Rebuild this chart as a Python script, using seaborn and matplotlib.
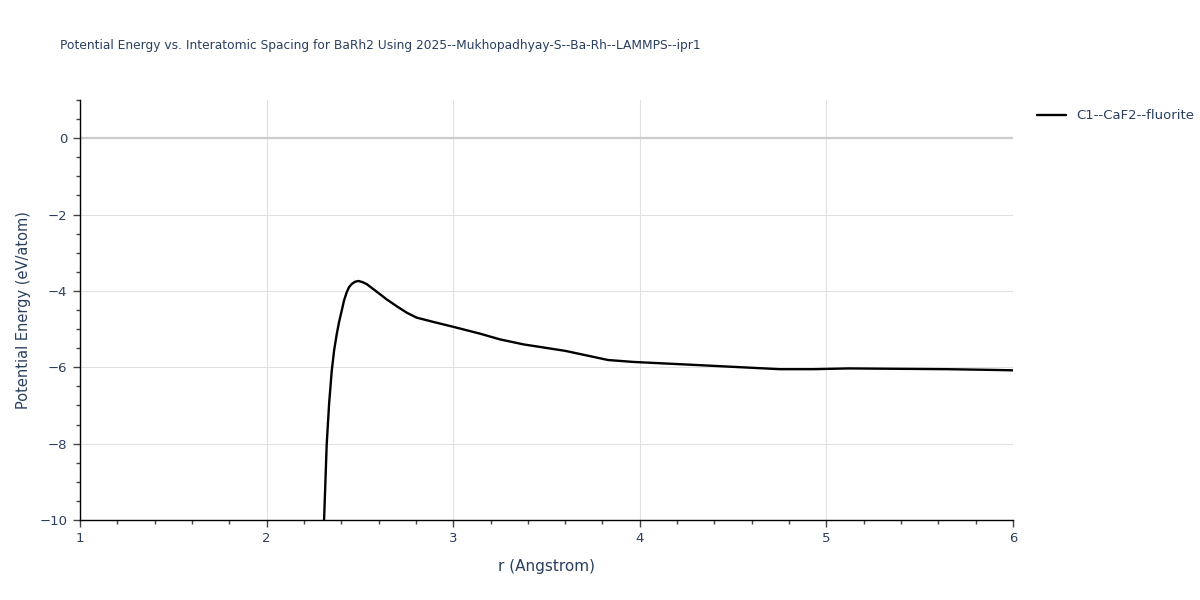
import pandas as pd
import matplotlib
matplotlib.use("Agg")
import matplotlib.pyplot as plt
from matplotlib.ticker import MultipleLocator
import seaborn as sns

# Curve (r in Angstrom, energy in eV/atom)
r_values = [2.285, 2.308, 2.322, 2.335, 2.349, 2.362, 2.376, 2.389, 2.402, 2.415,
            2.429, 2.442, 2.456, 2.474, 2.492, 2.514, 2.536, 2.59, 2.643, 2.70,
            2.751, 2.804, 2.90, 3.0, 3.144, 3.251, 3.376, 3.60, 3.83, 3.965,
            4.30, 4.75, 4.93, 5.12, 5.377, 5.65, 5.90, 6.0]
energy_values = [-13.0, -10.0, -8.03, -6.95, -6.1, -5.55, -5.13, -4.80, -4.53, -4.25,
                 -4.04, -3.90, -3.82, -3.76, -3.74, -3.77, -3.82, -4.02, -4.22, -4.41,
                 -4.57, -4.70, -4.82, -4.94, -5.12, -5.27, -5.40, -5.57, -5.81, -5.86,
                 -5.94, -6.05, -6.05, -6.03, -6.04, -6.05, -6.07, -6.08]
series_name = "C1--CaF2--fluorite"
title_text = "Potential Energy vs. Interatomic Spacing for BaRh2 Using 2025--Mukhopadhyay-S--Ba-Rh--LAMMPS--ipr1"

df = pd.DataFrame({"r": r_values, "E": energy_values, "structure": series_name})

sns.set_style("white")
plt.rcParams["font.family"] = ["DejaVu Sans"]
text_color = "#2a3f5f"
grid_color = "#e1e1e1"

fig = plt.figure(figsize=(12, 6), dpi=100)
ax = fig.add_axes([80 / 1200, 80 / 600, 933 / 1200, 420 / 600])

ax.axhline(0, color="#cccccc", linewidth=1.6, zorder=1)
sns.lineplot(data=df, x="r", y="E", hue="structure", palette=["black"],
             sort=False, linewidth=1.7, ax=ax, zorder=3)

ax.set_xlim(1, 6)
ax.set_ylim(-10, 1)
ax.xaxis.set_major_locator(MultipleLocator(1))
ax.xaxis.set_minor_locator(MultipleLocator(0.2))
ax.yaxis.set_major_locator(MultipleLocator(2))
ax.yaxis.set_minor_locator(MultipleLocator(0.5))
ax.grid(True, which="major", color=grid_color, linewidth=0.8, zorder=0)
ax.set_axisbelow(True)

for side in ["top", "right"]:
    ax.spines[side].set_visible(False)
for side in ["left", "bottom"]:
    ax.spines[side].set_color("black")
    ax.spines[side].set_linewidth(1.0)

ax.tick_params(which="major", direction="out", length=5, width=1, color="#444444",
               labelsize=9.5, labelcolor=text_color, pad=4, left=True, bottom=True)
ax.tick_params(which="minor", direction="out", length=3, width=1, color="#444444",
               left=True, bottom=True)

ax.set_xlabel("r (Angstrom)", fontsize=11, color=text_color, labelpad=10)
ax.set_ylabel("Potential Energy (eV/atom)", fontsize=10.5, color=text_color, labelpad=6)

fig.text(60 / 1200, 1 - 45 / 600, title_text, fontsize=8.8, color=text_color,
         ha="left", va="center")

leg = ax.legend(loc="upper left", bbox_to_anchor=(1.02, 0.99), frameon=False,
                fontsize=9.5, handlelength=2.2, borderaxespad=0)
for t in leg.get_texts():
    t.set_color(text_color)

fig.savefig("out.png", dpi=100)
